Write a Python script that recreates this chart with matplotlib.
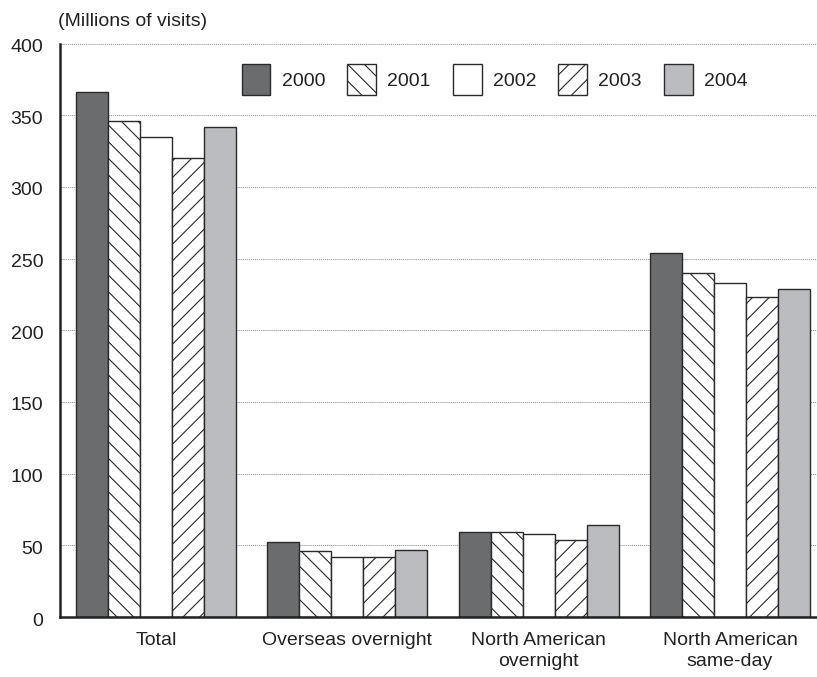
import matplotlib
matplotlib.use("Agg")
import matplotlib.pyplot as plt
import matplotlib.transforms as mtransforms
import numpy as np
from matplotlib.patches import Patch

plt.rcParams['font.family'] = ['Liberation Sans', 'DejaVu Sans']
plt.rcParams['hatch.linewidth'] = 0.8
plt.rcParams['hatch.color'] = '#222222'

categories = ["Total", "Overseas overnight", "North American\novernight", "North American\nsame-day"]
years = ["2000", "2001", "2002", "2003", "2004"]
values = {
    "2000": [366, 52, 59, 254],
    "2001": [346, 46, 59, 240],
    "2002": [335, 42, 58, 233],
    "2003": [320, 42, 54, 223],
    "2004": [342, 47, 64, 229],
}
yticks = [0, 50, 100, 150, 200, 250, 300, 350, 400]

fills = {"2000": "#6b6c6e", "2001": "white", "2002": "white", "2003": "white", "2004": "#bbbcbf"}
hatches = {"2000": None, "2001": "\\\\", "2002": None, "2003": "//", "2004": None}
edge = "#2a2a2a"
txt = '#222222'
fs = 14

W, H = 817, 677
fig = plt.figure(figsize=(W / 100, H / 100), dpi=100)
ax = fig.add_axes([60 / W, 1 - 617 / H, (817 - 60) / W, (617 - 43.5) / H])

x = np.arange(len(categories))
bw = 0.167
for i, yr in enumerate(years):
    ax.bar(x + (i - 2) * bw, values[yr], width=bw, color=fills[yr], edgecolor=edge,
           linewidth=1.0, hatch=hatches[yr], zorder=3)

ax.set_xlim(-0.502, 3.455)
ax.set_ylim(0, 400)
ax.set_yticks(yticks)
ax.set_yticklabels([str(v) for v in yticks])
ax.set_xticks(x)
ax.set_xticklabels(categories, linespacing=1.3)
ax.tick_params(axis='y', length=0, pad=12, labelsize=fs, colors=txt)
ax.tick_params(axis='x', length=0, pad=11, labelsize=fs, colors=txt)

# nudge the value labels slightly below their gridlines
shift = mtransforms.ScaledTranslation(0, -2 / 100, fig.dpi_scale_trans)
for lab in ax.get_yticklabels():
    lab.set_transform(lab.get_transform() + shift)

for v in yticks[1:]:
    ax.axhline(v, color='#888888', linestyle=(0, (1, 1)), linewidth=0.7, zorder=1)

for s in ["top", "right"]:
    ax.spines[s].set_visible(False)
for s in ["left", "bottom"]:
    ax.spines[s].set_linewidth(1.8)
    ax.spines[s].set_color(txt)
    ax.spines[s].set_zorder(4)

handles = [Patch(facecolor=fills[yr], edgecolor=edge, hatch=hatches[yr], linewidth=1.0, label=yr)
           for yr in years]
leg = ax.legend(handles=handles, ncol=5, loc='upper left',
                bbox_to_anchor=((241.5 - 60) / (817 - 60), 1 - (64 - 43.5) / (617 - 43.5)),
                frameon=False, fontsize=fs, handlelength=1.49, handleheight=2.08,
                handletextpad=0.57, columnspacing=1.13, borderaxespad=0, borderpad=0)
for t in leg.get_texts():
    t.set_color(txt)

fig.text(58 / W, 1 - 22 / H, "(Millions of visits)", fontsize=fs, color=txt,
         ha='left', va='center')

fig.savefig("out.png", dpi=100)
